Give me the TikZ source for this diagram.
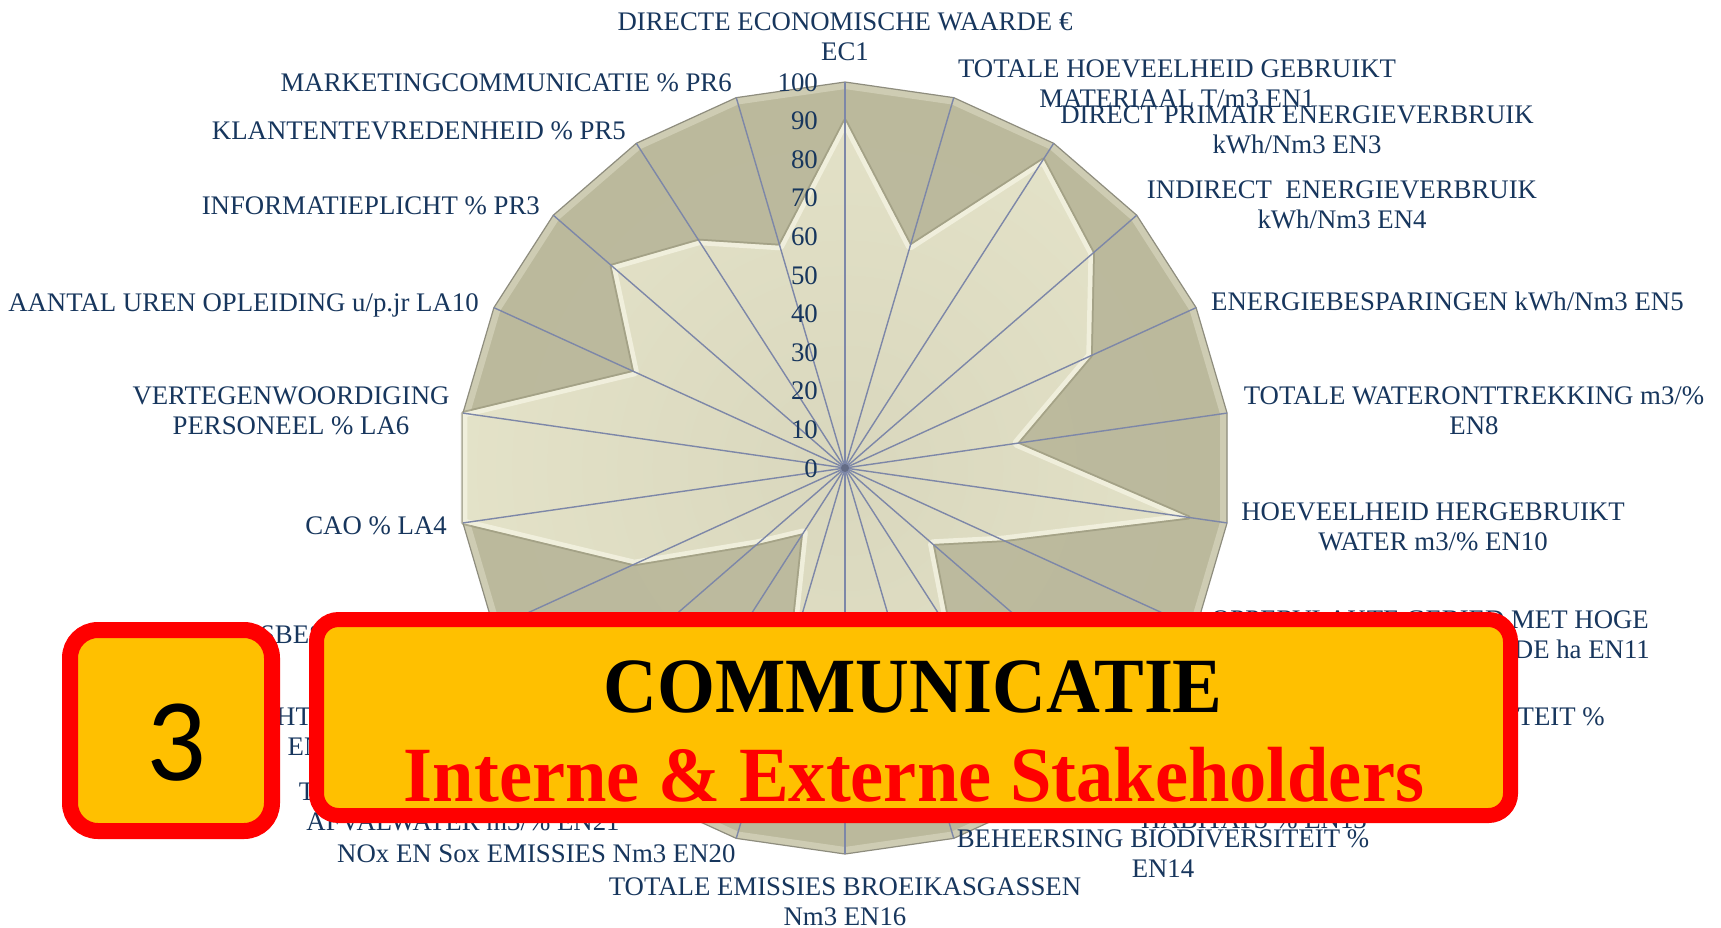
\documentclass[tikz,border=0pt]{standalone}
\usepackage{fontspec}
\setmainfont{Liberation Serif}
\newfontfamily\digitfont{Carlito}
\usepackage{graphicx}
\definecolor{navy}{HTML}{17365D}
\definecolor{gold}{HTML}{FFC000}
\definecolor{redb}{HTML}{FF0000}
\definecolor{spokec}{HTML}{7D87A8}
\definecolor{khakiin}{HTML}{BDBB9F}
\definecolor{khakiout}{HTML}{B8B699}
\definecolor{khakirim}{HTML}{D3D1B9}
\definecolor{creamin}{HTML}{D9D7BD}
\definecolor{creamout}{HTML}{EEEDD3}
\definecolor{creamrim}{HTML}{F4F3E2}
\definecolor{rimline}{HTML}{8E8D7E}
\definecolor{shadowc}{HTML}{8F8D72}
\begin{document}
\begin{tikzpicture}[x=1pt,y=-1pt,
  lbl/.style={text=navy, font=\fontsize{26.8}{30}\selectfont, align=center, inner sep=0pt},
  tick/.style={text=navy, font=\fontsize{26.8}{30}\selectfont, inner sep=0pt, anchor=base east},
  spoke/.style={draw=spokec, line width=1.4pt},
  titlebox/.style={draw=redb, fill=gold, line width=15pt, rounded corners=22pt, inner sep=0pt},
  numbox/.style={draw=redb, fill=gold, line width=16pt, rounded corners=28pt, inner sep=0pt},
  titletext/.style={anchor=base, inner sep=0pt, font=\fontsize{74.5}{80}\selectfont\bfseries}]
\useasboundingbox (0,0) rectangle (1721,927);
\fill[white] (0,0) rectangle (1721,927);
\coordinate (C) at (845,468);
\foreach \k in {0,...,21}{
  \pgfmathsetmacro\ang{\k*360/22}
  \coordinate (o\k) at ({845+386*sin(\ang)},{468-386*cos(\ang)});
}
\foreach \v [count=\i from 0] in {90,60,95,85,70,45,90,45,30,50,40,40,50,20,30,60,100,100,60,80,70,60}{
  \pgfmathsetmacro\ang{\i*360/22}
  \coordinate (d\i) at ({845+3.86*\v*sin(\ang)},{468-3.86*\v*cos(\ang)});
}
% outer polygon (100 %)
\begin{scope}
  \clip (o0) \foreach \k in {1,...,21}{ -- (o\k)} -- cycle;
  \shade[inner color=khakiin, outer color=khakiout] (C) circle (772);
  \draw[khakirim, line width=14pt, opacity=0.8] (o0) \foreach \k in {1,...,21}{ -- (o\k)} -- cycle;
\end{scope}
\draw[rimline, line width=1.2pt] (o0) \foreach \k in {1,...,21}{ -- (o\k)} -- cycle;
% data polygon
\draw[shadowc, line width=4pt, opacity=0.5, line join=round] (d0) \foreach \k in {1,...,21}{ -- (d\k)} -- cycle;
\begin{scope}
  \clip (d0) \foreach \k in {1,...,21}{ -- (d\k)} -- cycle;
  \shade[inner color=creamin, outer color=creamout] (C) circle (772);
  \draw[creamrim, line width=9pt, opacity=0.8, line join=round] (d0) \foreach \k in {1,...,21}{ -- (d\k)} -- cycle;
\end{scope}
% spokes
\foreach \k in {0,...,21}{ \draw[spoke] (C) -- (o\k); }
\fill[spokec!80!black] (C) circle (4);
% scale
\foreach \t in {0,10,...,100}{ \node[tick] (t\t) at (818,{477-3.86*\t}) {\t}; }
% axis labels (two-line labels anchored at the baseline of their last line)
\node[lbl, anchor=base] (lEC1) at (845,60) {DIRECTE ECONOMISCHE WAARDE €\\EC1};
\node[lbl, anchor=base] (lEN1) at (1177,107) {TOTALE HOEVEELHEID GEBRUIKT\\MATERIAAL T/m3 EN1};
\node[lbl, anchor=base] (lEN3) at (1297,153) {DIRECT PRIMAIR ENERGIEVERBRUIK\\kWh/Nm3 EN3};
\node[lbl, anchor=base] (lEN4) at (1342,228) {INDIRECT~ ENERGIEVERBRUIK\\kWh/Nm3 EN4};
\node[lbl, anchor=base west] (lEN5) at (1211,310) {ENERGIEBESPARINGEN kWh/Nm3 EN5};
\node[lbl, anchor=base] (lEN8) at (1474,434) {TOTALE WATERONTTREKKING m3/\%\\EN8};
\node[lbl, anchor=base] (lEN10) at (1433,550) {HOEVEELHEID HERGEBRUIKT\\WATER m3/\% EN10};
\node[lbl, anchor=base] (lEN11) at (1430,658) {OPPERVLAKTE GEBIED MET HOGE\\BIODIVERSITEITSWAARDE ha EN11};
\node[lbl, anchor=base east] (lEN12) at (1605,755) {IMPACT OP BIODIVERSITEIT \%\\EN12};
\node[lbl, anchor=base] (lEN13) at (1254,828) {BESCHERMDE OF HERSTELDE\\HABITATS \% EN13};
\node[lbl, anchor=base] (lEN14) at (1163,877) {BEHEERSING BIODIVERSITEIT \%\\EN14};
\node[lbl, anchor=base] (lEN16) at (845,925) {TOTALE EMISSIES BROEIKASGASSEN\\Nm3 EN16};
\node[lbl, anchor=base west] (lEN20) at (337,862) {NOx EN Sox EMISSIES Nm3 EN20};
\node[lbl, anchor=base] (lEN21) at (463,830) {TOTALE LOZING VAN HET\\AFVALWATER m3/\% EN21};
\node[lbl, anchor=base] (lEN22) at (319,755) {TOTAAL GEWICHT AFVAL NAAR TYPE\\EN22};
\node[lbl, anchor=base west] (lLA1) at (108,643) {PERSONEELSBESTAND \% LA1};
\node[lbl, anchor=base east] (lLA4) at (447,534) {CAO \% LA4};
\node[lbl, anchor=base] (lLA6) at (291,434) {VERTEGENWOORDIGING\\PERSONEEL \% LA6};
\node[lbl, anchor=base east] (lLA10) at (479,311) {AANTAL UREN OPLEIDING u/p.jr LA10};
\node[lbl, anchor=base east] (lPR3) at (540,214) {INFORMATIEPLICHT \% PR3};
\node[lbl, anchor=base east] (lPR5) at (626,139) {KLANTENTEVREDENHEID \% PR5};
\node[lbl, anchor=base east] (lPR6) at (732,91) {MARKETINGCOMMUNICATIE \% PR6};
% title boxes
\node[titlebox, minimum width=1194pt, minimum height=196pt] (title) at (913.5,717.5) {};
\node[titletext, text=black] (titleA) at (913,712) {\scalebox{1}[1.05]{COMMUNICATIE}};
\node[titletext, text=redb] (titleB) at (914,801) {\scalebox{1}[1.05]{Interne \& Externe Stakeholders}};
\node[numbox, minimum width=202pt, minimum height=201pt] (num) at (171,730.5) {};
\node[anchor=base, inner sep=0pt, font=\digitfont\fontsize{118}{120}\selectfont] (numtext) at (176,780) {3};
\end{tikzpicture}
\end{document}
